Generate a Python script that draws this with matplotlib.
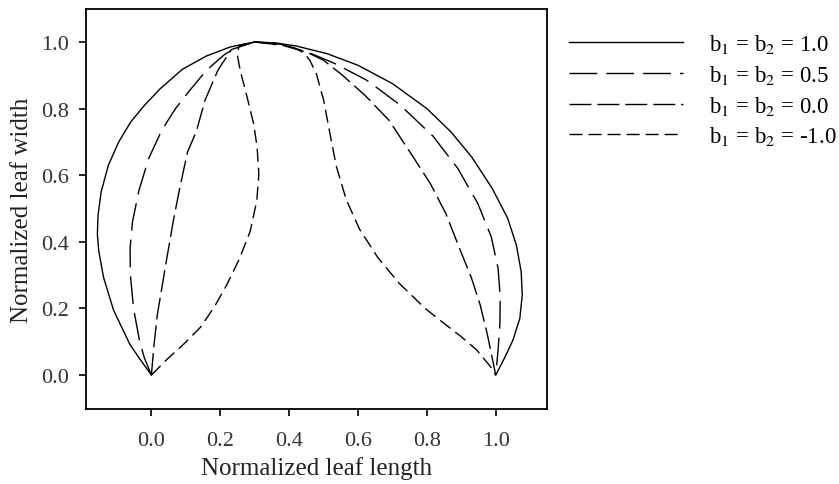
import matplotlib
matplotlib.use("Agg")
import matplotlib.pyplot as plt

plt.rcParams["font.family"] = ["Liberation Serif", "DejaVu Serif"]
plt.rcParams["mathtext.fontset"] = "stix"

# leaf outlines: (0,0) -> apex (0.3, 1) -> (1,0)
x_b10 = [0.0, -0.035, -0.063, -0.11, -0.139, -0.153, -0.157, -0.155, -0.146, -0.125,
         -0.095, -0.06, -0.02, 0.026, 0.09, 0.16, 0.229, 0.3,
         0.36, 0.42, 0.51, 0.6, 0.7, 0.8, 0.87, 0.93, 0.99, 1.035, 1.06, 1.074,
         1.077, 1.07, 1.05, 1.025, 1.0]
y_b10 = [0.0, 0.05, 0.093, 0.195, 0.293, 0.373, 0.423, 0.48, 0.55, 0.63,
         0.7, 0.76, 0.81, 0.86, 0.918, 0.958, 0.985, 1.0,
         0.997, 0.988, 0.965, 0.93, 0.875, 0.8, 0.73, 0.655, 0.56, 0.47, 0.39, 0.31,
         0.24, 0.17, 0.105, 0.05, 0.0]

x_b05 = [0.0, -0.02, -0.034, -0.052, -0.061, -0.062, -0.055, -0.036, -0.008, 0.03,
         0.07, 0.11, 0.16, 0.212, 0.25, 0.3,
         0.38, 0.462, 0.529, 0.624, 0.721, 0.818, 0.89, 0.948, 0.987, 1.007,
         1.013, 1.012, 1.006, 1.0]
y_b05 = [0.0, 0.05, 0.1, 0.2, 0.3, 0.38, 0.46, 0.555, 0.65, 0.735,
         0.8, 0.853, 0.915, 0.962, 0.985, 1.0,
         0.993, 0.966, 0.937, 0.886, 0.812, 0.717, 0.62, 0.515, 0.415, 0.32,
         0.235, 0.15, 0.065, 0.0]

x_b00 = [0.0, 0.007, 0.017, 0.03, 0.045, 0.064, 0.083, 0.105, 0.13, 0.156,
         0.193, 0.232, 0.3,
         0.38, 0.45, 0.5, 0.555, 0.62, 0.69, 0.76, 0.81, 0.855, 0.895, 0.93,
         0.955, 0.975, 0.99, 1.0]
y_b00 = [0.0, 0.085, 0.18, 0.26, 0.352, 0.465, 0.565, 0.67, 0.73, 0.826,
         0.915, 0.977, 1.0,
         0.99, 0.97, 0.945, 0.9, 0.84, 0.765, 0.655, 0.575, 0.485, 0.38, 0.29,
         0.21, 0.125, 0.05, 0.0]

x_bm1 = [0.0, 0.046, 0.094, 0.142, 0.183, 0.22, 0.256, 0.287, 0.306, 0.312,
         0.307, 0.297, 0.278, 0.258, 0.249, 0.255, 0.3,
         0.37, 0.42, 0.443, 0.46, 0.479, 0.5, 0.518, 0.537, 0.566, 0.605,
         0.658, 0.72, 0.795, 0.85, 0.9, 0.945, 0.985, 1.0]
y_bm1 = [0.0, 0.048, 0.093, 0.143, 0.205, 0.273, 0.35, 0.432, 0.523, 0.604,
         0.684, 0.754, 0.834, 0.914, 0.964, 0.99, 1.0,
         0.995, 0.98, 0.967, 0.945, 0.905, 0.826, 0.728, 0.627, 0.526, 0.437,
         0.352, 0.275, 0.2, 0.155, 0.115, 0.075, 0.025, 0.0]

labels = [r"b$_1$ = b$_2$ = 1.0", r"b$_1$ = b$_2$ = 0.5",
          r"b$_1$ = b$_2$ = 0.0", r"b$_1$ = b$_2$ = -1.0"]
dashes = [None, (20, 6.5), (15.8, 4.3), (9.4, 4.3)]

fig = plt.figure(figsize=(8.39, 4.85), dpi=100)
ax = fig.add_axes([0.1025, 0.1546, 0.5495, 0.8248])

curves = [(x_b10, y_b10), (x_b05, y_b05), (x_b00, y_b00), (x_bm1, y_bm1)]
for (xs, ys), lab, ds in zip(curves, labels, dashes):
    line, = ax.plot(xs, ys, color="black", lw=1.0, label=lab)
    if ds is not None:
        line.set_dashes(ds)

ax.set_xlim(-0.19, 1.149)
ax.set_ylim(-0.102, 1.099)
ax.set_xticks([0.0, 0.2, 0.4, 0.6, 0.8, 1.0])
ax.set_yticks([0.0, 0.2, 0.4, 0.6, 0.8, 1.0])
ax.tick_params(direction="out", length=5, width=1.2, labelsize=16,
               labelcolor="#333333")
ax.tick_params(axis="x", pad=11)
ax.tick_params(axis="y", pad=7)
for sp in ax.spines.values():
    sp.set_linewidth(1.3)
ax.set_xlabel("Normalized leaf length", fontsize=18, color="#222222", labelpad=4)
ax.set_ylabel("Normalized leaf width", fontsize=18, color="#222222", labelpad=6)

fig.legend(loc="upper left", bbox_to_anchor=(569 / 839, 1 - 33 / 485),
           frameon=False, fontsize=16.5, borderpad=0, borderaxespad=0,
           handlelength=4.97, handletextpad=1.13, labelspacing=0.34)

fig.savefig("out.png", dpi=100)
plt.close(fig)
